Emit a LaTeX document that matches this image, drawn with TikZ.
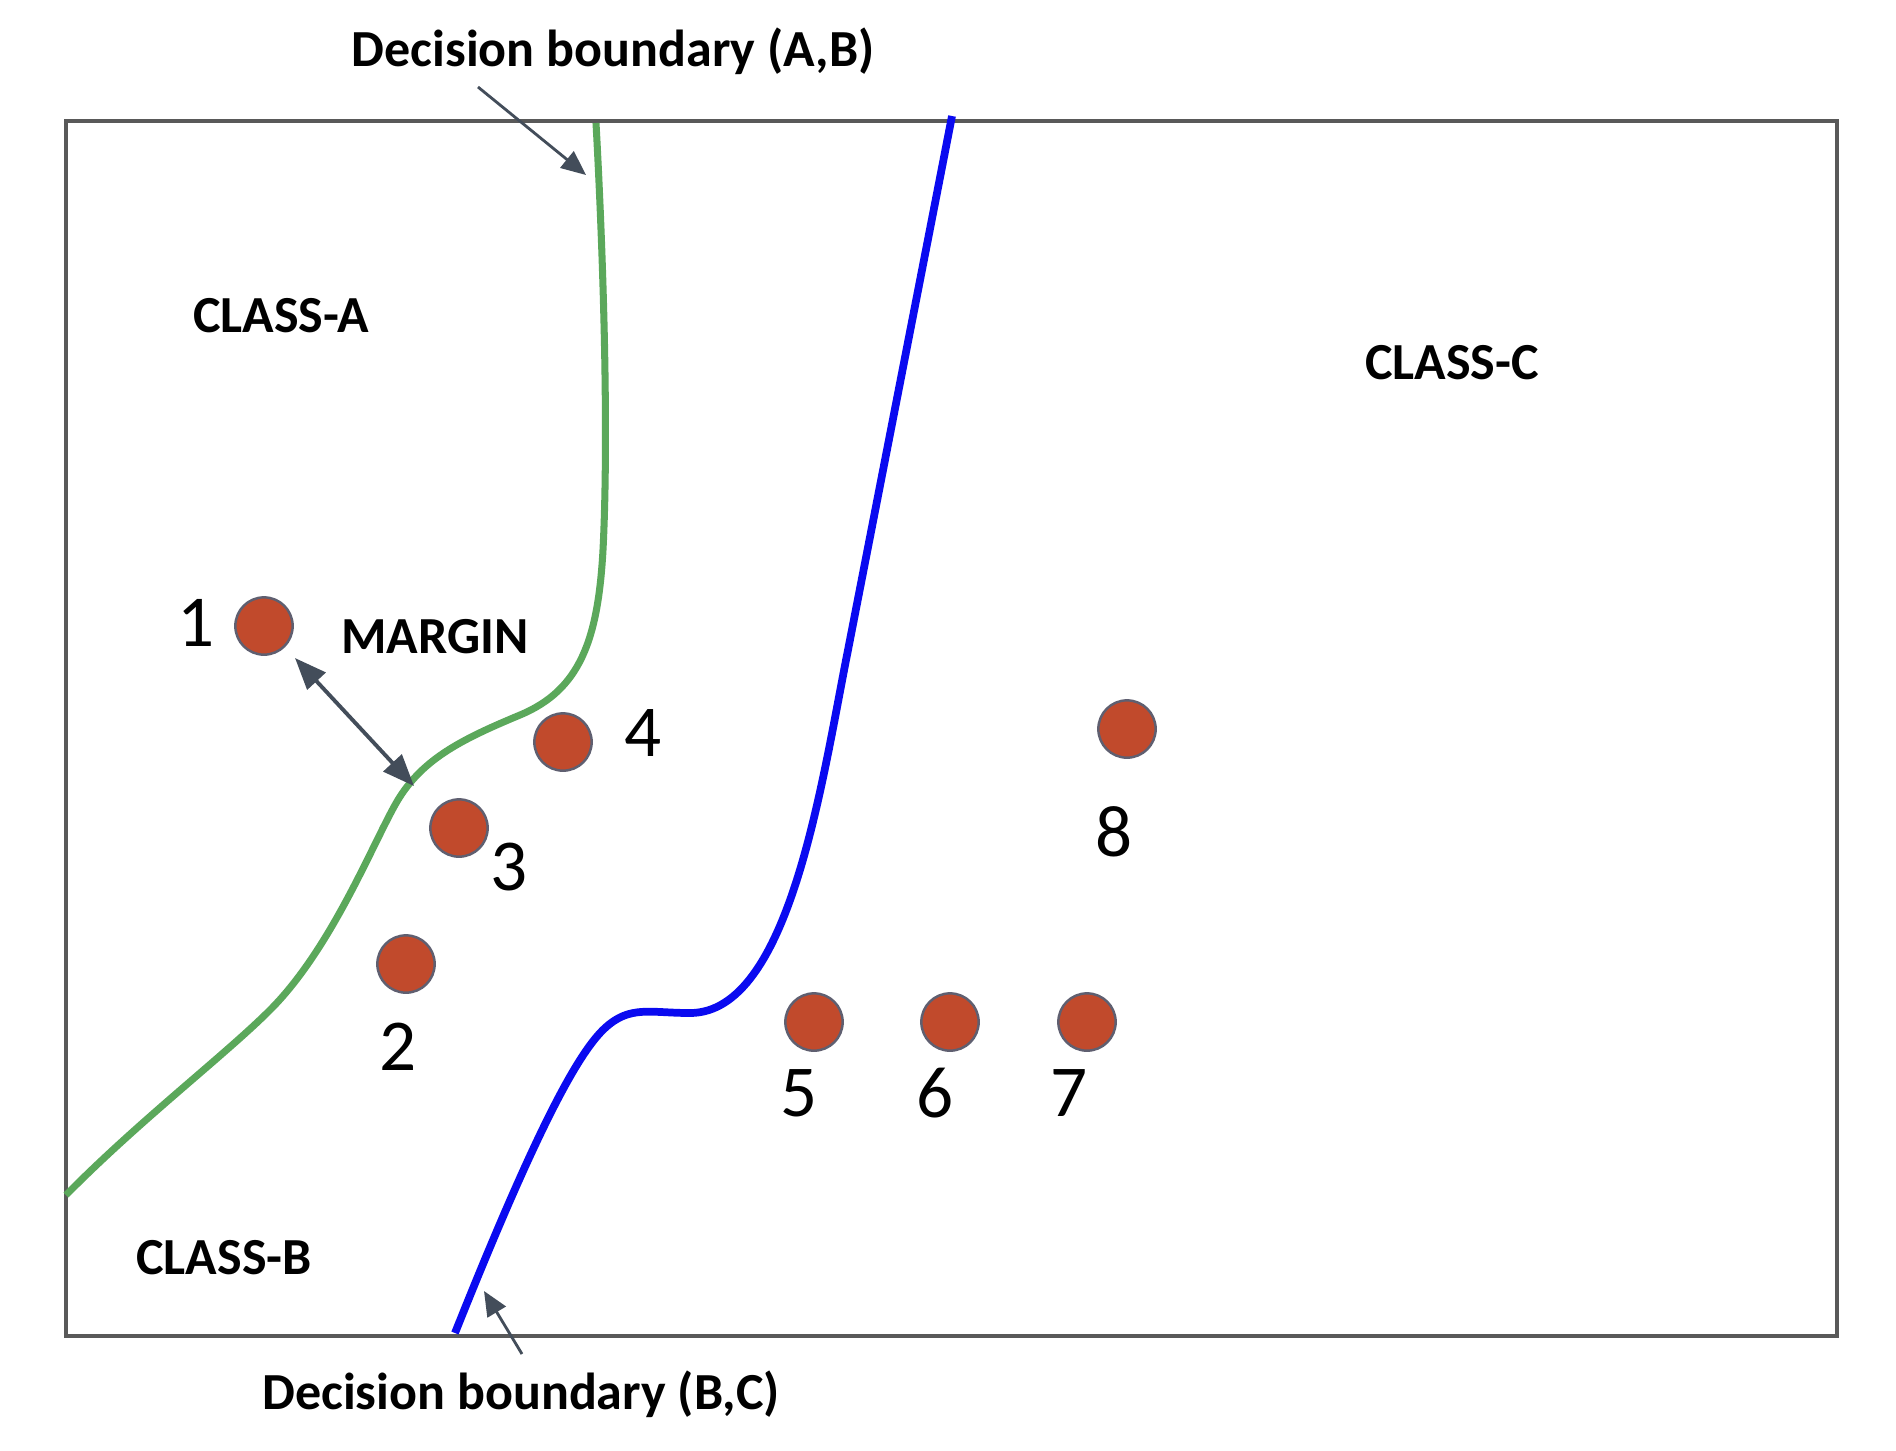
\documentclass[tikz,border=0pt]{standalone}
\usepackage{fontspec}
\setmainfont{Carlito}
\usetikzlibrary{arrows.meta}
\definecolor{frame}{HTML}{595959}
\definecolor{gline}{HTML}{5BA85B}
\definecolor{bline}{HTML}{0A0AF0}
\definecolor{dotfill}{HTML}{C14A2C}
\definecolor{dotedge}{HTML}{5F5F70}
\definecolor{arr}{HTML}{434D5A}
\tikzset{
  dotnode/.style={circle, fill=dotfill, draw=dotedge, line width=0.7pt, minimum size=16.3pt, inner sep=0pt},
  numlabel/.style={font=\fontsize{20.8}{24}\selectfont, inner sep=0pt},
  boldlabel/.style={font=\bfseries\fontsize{14.8}{17}\selectfont, inner sep=0pt},
  ptr/.style={draw=arr, line width=0.8pt, -{Triangle[length=7pt,width=6pt]}},
  dptr/.style={draw=arr, line width=1.1pt, {Triangle[length=9pt,width=7pt]}-{Triangle[length=9pt,width=7pt]}}
}
\begin{document}
\begin{tikzpicture}[x=0.01cm,y=-0.01cm]
\useasboundingbox (0,0) rectangle (1896,1450);
\fill[white] (0,0) rectangle (1896,1450);
% frame
\draw[frame, line width=1.3pt] (66,121) rectangle (1837,1336);
% green boundary
\draw[gline, line width=2pt, line cap=butt]
  (596,123) .. controls (603,250) and (609,430) .. (603,550)
  .. controls (598,640) and (580,690) .. (520,715)
  .. controls (460,740) and (420,760) .. (395,805)
  .. controls (370,850) and (330,950) .. (270,1010)
  .. controls (225,1055) and (140,1120) .. (66,1195);
% blue boundary
\draw[bline, line width=2.2pt]
  (952,116) -- (848,650)
  .. controls (822,780) and (790,1013) .. (690,1013)
  .. controls (650,1013) and (630,1005) .. (605,1028)
  .. controls (580,1051) and (540,1120) .. (455,1333);
% dots
\node[dotnode] (d1) at (264,626) {};
\node[dotnode] (d2) at (406,964) {};
\node[dotnode] (d3) at (459,828) {};
\node[dotnode] (d4) at (563,742) {};
\node[dotnode] (d5) at (814,1022) {};
\node[dotnode] (d6) at (950,1022) {};
\node[dotnode] (d7) at (1087,1022) {};
\node[dotnode] (d8) at (1127,729) {};
% numbers
\node[numlabel] (n1) at (196,623) {1};
\node[numlabel] (n2) at (398,1047) {2};
\node[numlabel] (n3) at (509,867) {3};
\node[numlabel] (n4) at (643,733) {4};
\node[numlabel] (n5) at (799,1093) {5};
\node[numlabel] (n6) at (935,1093) {6};
\node[numlabel] (n7) at (1069,1093) {7};
\node[numlabel] (n8) at (1114,832) {8};
% bold labels
\node[boldlabel] (lab) at (613,51) {Decision boundary (A,B)};
\node[boldlabel] (lbc) at (521,1394) {Decision boundary (B,C)};
\node[boldlabel] (ca) at (281,316) {CLASS-A};
\node[boldlabel] (cc) at (1452,363) {CLASS-C};
\node[boldlabel] (cb) at (224,1258) {CLASS-B};
\node[boldlabel] (mg) at (435,637) {MARGIN};
% pointers
\coordinate (abs) at (478,87);
\coordinate (abe) at (586,175);
\coordinate (bcs) at (522,1354);
\coordinate (bce) at (484,1291);
\coordinate (ms) at (295,658);
\coordinate (me) at (414,786);
\draw[ptr] (abs) -- (abe);
\draw[ptr] (bcs) -- (bce);
\draw[dptr] (ms) -- (me);
\end{tikzpicture}
\end{document}
